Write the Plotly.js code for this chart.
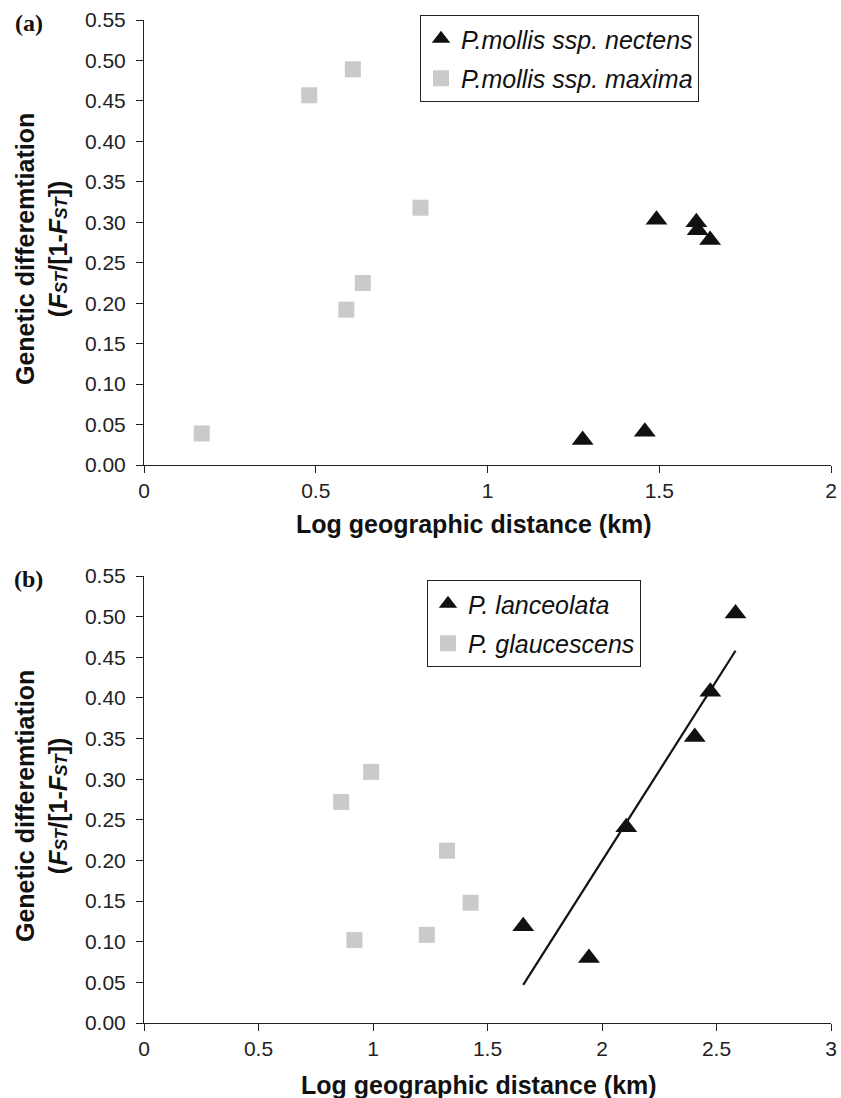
<!DOCTYPE html>
<html>
<head>
<meta charset="utf-8">
<script src="https://cdn.plot.ly/plotly-3.0.1.min.js"></script>
<style>
html, body { margin: 0; padding: 0; background: #fff; }
#chart { width: 841px; height: 1098px; }
</style>
</head>
<body>
<div id="chart"></div>
<script>
// ---- Panel (a) data ----
const nectensX = [1.277, 1.458, 1.492, 1.608, 1.612, 1.648];
const nectensY = [0.031, 0.041, 0.303, 0.300, 0.290, 0.278];
const maximaX = [0.168, 0.481, 0.589, 0.608, 0.637, 0.805];
const maximaY = [0.039, 0.457, 0.192, 0.489, 0.225, 0.318];

// ---- Panel (b) data ----
const lanceolataX = [1.656, 1.943, 2.106, 2.405, 2.473, 2.583];
const lanceolataY = [0.119, 0.080, 0.241, 0.352, 0.4075, 0.504];
const glaucescensX = [0.861, 0.919, 0.992, 1.235, 1.323, 1.426];
const glaucescensY = [0.272, 0.102, 0.309, 0.1085, 0.212, 0.148];
const fitX = [1.656, 2.583];
const fitY = [0.047, 0.458];

// ---- labels ----
const seriesNames = ["P.mollis ssp. nectens", "P.mollis ssp. maxima", "P. lanceolata", "P. glaucescens"];
const yTickVals = [0, 0.05, 0.10, 0.15, 0.20, 0.25, 0.30, 0.35, 0.40, 0.45, 0.50, 0.55];
const xTicksA = [0, 0.5, 1, 1.5, 2];
const xTicksB = [0, 0.5, 1, 1.5, 2, 2.5, 3];
const xTitle = "Log geographic distance (km)";
const panelLabels = ["(a)", "(b)"];

const TRI = "#111111";
const SQ = "#c9cacc";
const FONT = "Liberation Sans, Arial, sans-serif";

const traces = [
  { x: nectensX, y: nectensY, xaxis: "x", yaxis: "y", mode: "markers", type: "scatter",
    name: "<i>" + seriesNames[0] + "</i>", legend: "legend", legendgroup: "a1",
    marker: { symbol: "triangle-up", size: 19, color: TRI } },
  { x: maximaX, y: maximaY, xaxis: "x", yaxis: "y", mode: "markers", type: "scatter",
    name: "<i>" + seriesNames[1] + "</i>", legend: "legend", legendgroup: "a2",
    marker: { symbol: "square", size: 16, color: SQ } },
  { x: lanceolataX, y: lanceolataY, xaxis: "x2", yaxis: "y2", mode: "markers", type: "scatter",
    name: "<i>" + seriesNames[2] + "</i>", legend: "legend2", legendgroup: "b1",
    marker: { symbol: "triangle-up", size: 19, color: TRI } },
  { x: glaucescensX, y: glaucescensY, xaxis: "x2", yaxis: "y2", mode: "markers", type: "scatter",
    name: "<i>" + seriesNames[3] + "</i>", legend: "legend2", legendgroup: "b2",
    marker: { symbol: "square", size: 16, color: SQ } },
  { x: fitX, y: fitY, xaxis: "x2", yaxis: "y2", mode: "lines", type: "scatter",
    showlegend: false, line: { color: "#111", width: 2.2 } }
];

// plot area: x 144..831, top y 20..465, bottom y 576..1023
const ML = 144, MR = 10, MT = 20, MB = 75, W = 841, H = 1098;
const PW = W - ML - MR, PH = H - MT - MB;
const px = v => (v - ML) / PW;
const py = v => (H - MB - v) / PH;

function yax(domain) {
  return {
    domain: domain, range: [0, 0.55], tickvals: yTickVals, tickformat: ".2f",
    showgrid: false, zeroline: false, showline: true, linecolor: "#222", linewidth: 1,
    ticks: "outside", ticklen: 7, tickcolor: "#222", ticklabelstandoff: 6,
    tickfont: { family: FONT, size: 21, color: "#222" }, fixedrange: true
  };
}
function xax(range, ticks, anchor) {
  return {
    domain: [0, 1], range: range, tickvals: ticks, anchor: anchor,
    showgrid: false, zeroline: false, showline: true, linecolor: "#222", linewidth: 1,
    ticks: "outside", ticklen: 7, tickcolor: "#222", ticklabelstandoff: 0,
    tickfont: { family: FONT, size: 21, color: "#222" }, fixedrange: true
  };
}

const yTitleText = "<b>Genetic differemtiation</b><br><b>(<i>F</i><span style='font-size:17px'><i>ST</i></span>/[1-<i>F</i><span style='font-size:17px'><i>ST</i></span>])</b>";

const legendCommon = {
  bgcolor: "#fff", bordercolor: "#222", borderwidth: 1,
  font: { family: FONT, size: 25, color: "#111" },
  xanchor: "left", yanchor: "top", tracegroupgap: 4, itemclick: false
};

const layout = {
  width: W, height: H,
  margin: { l: ML, r: MR, t: MT, b: MB, pad: 0 },
  paper_bgcolor: "#fff", plot_bgcolor: "#fff",
  showlegend: true,
  xaxis: xax([0, 2], xTicksA, "y"),
  yaxis: yax([py(465), 1]),
  xaxis2: xax([0, 3], xTicksB, "y2"),
  yaxis2: yax([0, py(576)]),
  legend: Object.assign({}, legendCommon, { x: px(420), y: py(15) }),
  legend2: Object.assign({}, legendCommon, { x: px(427), y: py(580) }),
  annotations: [
    { text: "<b>" + panelLabels[0] + "</b>", xref: "paper", yref: "paper", x: px(29), y: py(23),
      xanchor: "center", yanchor: "middle", showarrow: false,
      font: { family: "Liberation Serif, Times New Roman, serif", size: 24, color: "#111" } },
    { text: "<b>" + panelLabels[1] + "</b>", xref: "paper", yref: "paper", x: px(29), y: py(579),
      xanchor: "center", yanchor: "middle", showarrow: false,
      font: { family: "Liberation Serif, Times New Roman, serif", size: 24, color: "#111" } },
    { text: yTitleText, xref: "paper", yref: "paper", x: px(41), y: py(249),
      xanchor: "center", yanchor: "middle", textangle: -90, showarrow: false,
      font: { family: FONT, size: 25, color: "#111" } },
    { text: yTitleText, xref: "paper", yref: "paper", x: px(41), y: py(806),
      xanchor: "center", yanchor: "middle", textangle: -90, showarrow: false,
      font: { family: FONT, size: 25, color: "#111" } },
    { text: "<b>" + xTitle + "</b>", xref: "paper", yref: "paper", x: px(474), y: py(524),
      xanchor: "center", yanchor: "middle", showarrow: false,
      font: { family: FONT, size: 25, color: "#111" } },
    { text: "<b>" + xTitle + "</b>", xref: "paper", yref: "paper", x: px(479), y: py(1085),
      xanchor: "center", yanchor: "middle", showarrow: false,
      font: { family: FONT, size: 25, color: "#111" } }
  ]
};

Plotly.newPlot("chart", traces, layout, { staticPlot: true, displayModeBar: false });
</script>
</body>
</html>
